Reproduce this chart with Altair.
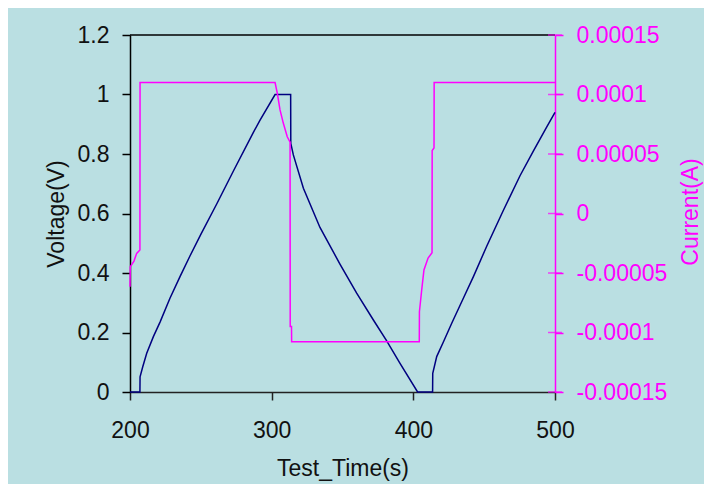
import altair as alt
import pandas as pd

# Voltage series (Test_Time s, Voltage V)
v_time = [200, 207.0, 207.1, 209, 211.8, 216.5, 221.2, 228.2, 235.3, 242.4, 250,
          261.2, 272.9, 287, 291.8, 302.4, 313.4, 313.5, 315.3, 322.4, 334.1,
          348.2, 360, 371.8, 381.2, 390.6, 403, 413.6, 413.7, 416.5, 421.2,
          427.1, 435.3, 442.4, 451.8, 463.5, 475.3, 484.7, 494.1, 500]
v_volt = [0, 0, 0.051, 0.085, 0.13, 0.186, 0.235, 0.315, 0.388, 0.458, 0.53,
          0.632, 0.742, 0.872, 0.914, 1.0, 1.0, 0.836, 0.797, 0.685, 0.553,
          0.43, 0.332, 0.242, 0.172, 0.0965, 0, 0, 0.063, 0.119, 0.168,
          0.231, 0.315, 0.388, 0.49, 0.61, 0.727, 0.81, 0.89, 0.94]

# Current series (Test_Time s, Current A)
c_time = [200, 200.2, 201.2, 202.8, 204.7, 207.0, 207.1, 302.4, 304, 305.9,
          308.2, 311, 313.0, 313.1, 314.0, 314.1, 404.2, 404.3, 405.9, 407.5,
          410.4, 413.2, 413.3, 414.6, 414.7, 500]
c_amp = [-6.15e-5, -4.47e-5, -4.3e-5, -4.0e-5, -3.35e-5, -3.07e-5, 1.1e-4, 1.1e-4,
         1.01e-4, 8.7e-5, 7.6e-5, 6.45e-5, 6.0e-5, -9.5e-5, -9.5e-5, -1.077e-4,
         -1.077e-4, -8.25e-5, -6.43e-5, -4.75e-5, -3.74e-5, -3.3e-5, 5.3e-5,
         5.5e-5, 1.1e-4, 1.1e-4]

x_ticks = [200, 300, 400, 500]
v_ticks = [0, 0.2, 0.4, 0.6, 0.8, 1, 1.2]
c_ticks = [-0.00015, -0.0001, -0.00005, 0, 0.00005, 0.0001, 0.00015]

dv = pd.DataFrame({"t": v_time, "v": v_volt})
dc = pd.DataFrame({"t": c_time, "c": c_amp})
dticks = pd.DataFrame({"c": c_ticks})
dtop = pd.DataFrame({"v": [max(v_ticks)]})

FONT = "Liberation Sans"
NAVY = "#000080"
MAG = "#FF00FF"
W, H = 425, 357
LFS = 23
TFS = 23

xscale = alt.Scale(domain=[200, 500], nice=False, zero=False)
vscale = alt.Scale(domain=[0, 1.2], nice=False)
cscale = alt.Scale(domain=[-0.00015, 0.00015], nice=False)

xenc = alt.X("t:Q", scale=xscale,
             axis=alt.Axis(values=x_ticks, title="Test_Time(s)", grid=False,
                           tickSize=8, labelPadding=19, domainColor="#222",
                           tickColor="#222", domainWidth=1.5, tickWidth=1.5,
                           labelFontSize=LFS, titleFontSize=TFS,
                           labelColor="#111", titleColor="#111",
                           titleY=83, titleBaseline="alphabetic",
                           labelFlush=False))

top_line = alt.Chart(dtop).mark_rule(color="#000", strokeWidth=1.5).encode(
    y=alt.Y("v:Q", scale=vscale, axis=None),
)

volt = alt.Chart(dv).mark_line(color=NAVY, strokeWidth=1.5).encode(
    x=xenc,
    y=alt.Y("v:Q", scale=vscale,
            axis=alt.Axis(values=v_ticks, title="Voltage(V)", grid=False,
                          orient="left", tickSize=8, labelPadding=13,
                          labelExpr="'' + datum.value",
                          domainColor="#000", tickColor="#000",
                          domainWidth=1.5, tickWidth=1.5,
                          labelFontSize=LFS, titleFontSize=TFS,
                          labelColor="#111", titleColor="#111",
                          titleX=-67, titleY=H / 2, titleAngle=270,
                          titleAlign="center", titleBaseline="alphabetic",
                          labelFlush=False)),
)

cur_line = alt.Chart(dc).mark_line(color=MAG, strokeWidth=1.5).encode(
    x=alt.X("t:Q", scale=xscale),
    y=alt.Y("c:Q", scale=cscale,
            axis=alt.Axis(values=c_ticks, title="Current(A)", grid=False,
                          orient="right", tickSize=8, labelPadding=13,
                          labelExpr="'' + datum.value",
                          domainColor=MAG, tickColor=MAG,
                          domainWidth=1.5, tickWidth=1.5,
                          labelFontSize=LFS, titleFontSize=TFS,
                          labelColor=MAG, titleColor=MAG,
                          titleX=142, titleY=H / 2 - 2, titleAngle=270,
                          titleAlign="center", titleBaseline="alphabetic",
                          labelFlush=False)),
)

cur_ticks = alt.Chart(dticks).mark_tick(orient="horizontal", size=14, thickness=1.5,
                                        color=MAG).encode(
    y=alt.Y("c:Q", scale=cscale, axis=None),
    x=alt.value(W),
)

chart = alt.layer(volt, cur_line, top_line, cur_ticks).resolve_scale(y="independent").properties(
    width=W, height=H,
    autosize=alt.AutoSizeParams(type="none"),
    padding={"left": 122, "top": 27, "right": 149, "bottom": 92},
    background="#BADFE2",
).configure_view(stroke=None, fill=None).configure_axis(
    labelFont=FONT, titleFont=FONT, titleFontWeight="normal"
)

chart.save("out.html", embed_options={"renderer": "svg", "actions": False})
